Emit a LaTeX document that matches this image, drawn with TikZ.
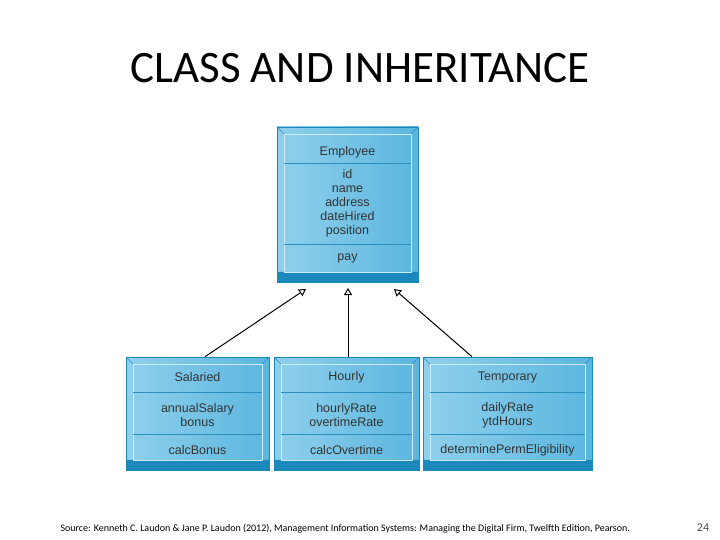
\documentclass[tikz,border=0pt]{standalone}
\usepackage{fontspec}
\setmainfont{Carlito}
\newfontfamily\boxfont{Liberation Sans}
\definecolor{boxlight}{HTML}{8FD0EC}
\definecolor{boxmid}{HTML}{5BB6DF}
\definecolor{boxdark}{HTML}{1B88BC}
\definecolor{boxline}{HTML}{2A8EBF}
\tikzset{
  boxfill/.style={left color=boxlight, right color=boxmid, draw=boxdark, line width=0.6pt},
  boxtext/.style={font=\boxfont\fontsize{12.5}{14}\selectfont, text=black!80, align=center, inner sep=0pt},
  inherit/.style={-{Triangle[open,length=7pt,width=8pt]}, line width=1pt}
}
\usetikzlibrary{positioning,arrows.meta}
% box with bevel: name, x1, y1, x2, y2, first divider, second divider
\newcommand{\umlbox}[7]{%
  \node (#1) [boxfill, rectangle, minimum width={#4-#2}, minimum height={#5-#3}, inner sep=0pt] at ({(#2+#4)/2},{(#3+#5)/2}) {};
  \fill[boxdark] (#2,#5-10) rectangle (#4,#5);
  \draw[white!60!boxlight, line width=0.5pt] (#2+7,#3+7) rectangle (#4-7,#5-10);
  \draw[boxline] (#2,#3) -- (#2+7,#3+7) (#4,#3) -- (#4-7,#3+7) (#2,#5-10) -- (#2+7,#5-10) (#4,#5-10) -- (#4-7,#5-10);
  \draw[boxline, line width=1pt] (#2+7,#6) -- (#4-7,#6) (#2+7,#7) -- (#4-7,#7);
}
\begin{document}
\begin{tikzpicture}[x=1pt,y=-1pt]
\useasboundingbox (0,0) rectangle (720,540);
\node (title) at (360,68) {\fontsize{45}{52}\selectfont CLASS AND INHERITANCE};

\umlbox{employee}{277}{127}{418}{282}{164}{244}
\node (empname) [boxtext] at (347.5,152) {Employee};
\node (empattr) [boxtext] at (347.5,203) {id\\name\\address\\dateHired\\position};
\node (empop) [boxtext] at (347.5,258) {pay};

\umlbox{salaried}{126}{357}{269}{470}{392}{434}
\node (salname) [boxtext] at (197.5,377) {Salaried};
\node (salattr) [boxtext] at (197.5,415) {annualSalary\\bonus};
\node (salop) [boxtext] at (197.5,450) {calcBonus};

\umlbox{hourly}{274}{357}{419}{470}{392}{434}
\node (hourname) [boxtext] at (346.5,377) {Hourly\vphantom{l}};
\node (hourattr) [boxtext] at (346.5,415) {hourlyRate\\overtimeRate};
\node (hourop) [boxtext] at (346.5,450) {calcOvertime};

\umlbox{temporary}{423}{357}{592}{470}{392}{434}
\node (tempname) [boxtext] at (507.5,377) {Temporary};
\node (tempattr) [boxtext] at (507.5,415) {dailyRate\\ytdHours};
\node (tempop) [boxtext] at (507.5,450) {determinePermEligibility};

\coordinate (tipsal) at (306,289);
\coordinate (tiphour) at (348,288);
\coordinate (tiptemp) at (394,289);
\draw[inherit] (salaried.north -| 205,0) -- (tipsal);
\draw[inherit] (hourly.north -| 348,0) -- (tiphour);
\draw[inherit] (temporary.north -| 472,0) -- (tiptemp);

\node (source) [anchor=west, font=\fontsize{10}{12}\selectfont] at (57,529) {Source: Kenneth C. Laudon \& Jane P. Laudon (2012), Management Information Systems: Managing the Digital Firm, Twelfth Edition, Pearson.};
\node (pagenum) [font=\fontsize{12}{14}\selectfont, text=black!70] at (703,528) {24};
\end{tikzpicture}
\end{document}
